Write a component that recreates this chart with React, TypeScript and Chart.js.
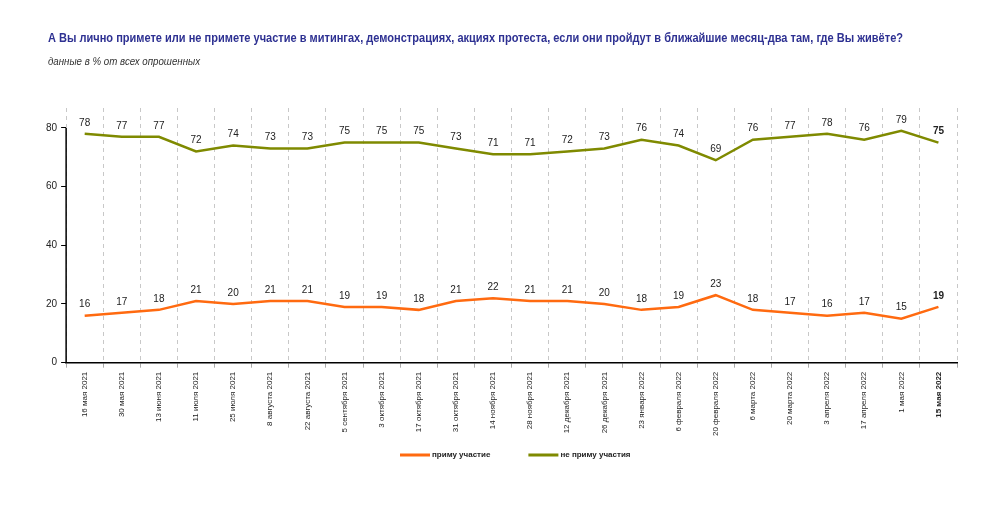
import React, { useEffect, useRef } from 'react';
import { Chart, registerables } from 'chart.js';

Chart.register(...registerables);

const FONT = '"Liberation Sans", Arial, sans-serif';

const TITLE = 'А Вы лично примете или не примете участие в митингах, демонстрациях, акциях протеста, если они пройдут в ближайшие месяц-два там, где Вы живёте?';
const SUBTITLE = 'данные в % от всех опрошенных';

const dates = [
    '16 мая 2021', '30 мая 2021', '13 июня 2021', '11 июля 2021', '25 июля 2021', '8 августа 2021',
    '22 августа 2021', '5 сентября 2021', '3 октября 2021', '17 октября 2021', '31 октября 2021',
    '14 ноября 2021', '28 ноября 2021', '12 декабря 2021', '26 декабря 2021', '23 января 2022',
    '6 февраля 2022', '20 февраля 2022', '6 марта 2022', '20 марта 2022', '3 апреля 2022',
    '17 апреля 2022', '1 мая 2022', '15 мая 2022',
];

const willTakePart = [16, 17, 18, 21, 20, 21, 21, 19, 19, 18, 21, 22, 21, 21, 20, 18, 19, 23, 18, 17, 16, 17, 15, 19];
const willNotTakePart = [78, 77, 77, 72, 74, 73, 73, 75, 75, 75, 73, 71, 71, 72, 73, 76, 74, 69, 76, 77, 78, 76, 79, 75];

const yTicks = [0, 20, 40, 60, 80];

const ORANGE = '#ff6a10';
const OLIVE = '#7f8a00';

// titles, point labels, legend and the short y axis line
const extras = {
    id: 'extras',
    afterDraw(chart: any) {
        const ctx = chart.ctx;
        const last = dates.length - 1;
        ctx.save();
        ctx.textAlign = 'left';
        ctx.textBaseline = 'middle';
        ctx.fillStyle = '#2e3192';
        ctx.font = `bold 13.5px ${FONT}`;
        ctx.fillText(TITLE, 48, 38, 855);
        ctx.fillStyle = '#333';
        ctx.font = `italic 10.5px ${FONT}`;
        ctx.fillText(SUBTITLE, 48, 62, 152);

        ctx.textAlign = 'center';
        ctx.fillStyle = '#222';
        chart.data.datasets.forEach((ds: any, i: number) => {
            const meta = chart.getDatasetMeta(i);
            meta.data.forEach((pt: any, j: number) => {
                ctx.font = `${j === last ? 'bold ' : ''}10px ${FONT}`;
                ctx.fillText(String(ds.data[j]), pt.x, pt.y - 11);
            });
        });

        // legend
        const legendY = 455;
        let lx = 400;
        ctx.textAlign = 'left';
        ctx.font = `bold 8px ${FONT}`;
        chart.data.datasets.forEach((ds: any) => {
            ctx.fillStyle = ds.borderColor;
            ctx.fillRect(lx, legendY - 1.5, 30, 3);
            ctx.fillStyle = '#222';
            ctx.fillText(ds.label, lx + 32, legendY);
            lx += 32 + ctx.measureText(ds.label).width + 38;
        });

        const y = chart.scales.y;
        ctx.strokeStyle = '#000';
        ctx.lineWidth = 1.5;
        ctx.beginPath();
        ctx.moveTo(chart.chartArea.left, y.getPixelForValue(0));
        ctx.lineTo(chart.chartArea.left, y.getPixelForValue(80));
        ctx.stroke();
        ctx.restore();
    },
};

export default function App() {
    const chartRef = useRef<HTMLCanvasElement>(null);
    const chartInstance = useRef<Chart | null>(null);

    useEffect(() => {
        if (chartInstance.current) {
            chartInstance.current.destroy();
        }
        if (chartRef.current) {
            const ctx = chartRef.current.getContext('2d');
            if (ctx) {
                chartInstance.current = new Chart(ctx, {
                    type: 'line',
                    data: {
                        labels: dates,
                        datasets: [
                            {
                                label: 'приму участие',
                                data: willTakePart,
                                borderColor: ORANGE,
                                backgroundColor: ORANGE,
                                borderWidth: 2.5,
                                pointRadius: 0,
                                tension: 0,
                            },
                            {
                                label: 'не приму участия',
                                data: willNotTakePart,
                                borderColor: OLIVE,
                                backgroundColor: OLIVE,
                                borderWidth: 2.5,
                                pointRadius: 0,
                                tension: 0,
                            },
                        ],
                    },
                    options: {
                        responsive: true,
                        maintainAspectRatio: false,
                        animation: false,
                        layout: {
                            padding: { top: 108, left: 42, right: 50, bottom: 70 },
                        },
                        plugins: {
                            legend: { display: false },
                            tooltip: { enabled: false },
                        },
                        scales: {
                            x: {
                                offset: true,
                                grid: {
                                    offset: true,
                                    color: '#c8c8c8',
                                    lineWidth: 1,
                                    tickLength: 5,
                                    tickColor: '#aaa',
                                    tickBorderDash: [],
                                },
                                border: { display: true, color: '#000', width: 1.5, dash: [4, 4] },
                                ticks: {
                                    autoSkip: false,
                                    minRotation: 90,
                                    maxRotation: 90,
                                    padding: 4,
                                    color: '#222',
                                    font: (c: any) => ({
                                        family: FONT,
                                        size: 8,
                                        weight: c.index === dates.length - 1 ? 'bold' : 'normal',
                                    }),
                                },
                            },
                            y: {
                                min: 0,
                                max: 86.8,
                                afterBuildTicks: (scale: any) => {
                                    scale.ticks = yTicks.map((v) => ({ value: v }));
                                },
                                grid: {
                                    drawOnChartArea: false,
                                    tickLength: 5,
                                    tickColor: '#000',
                                },
                                border: { display: false },
                                ticks: {
                                    padding: 4,
                                    color: '#222',
                                    font: { family: FONT, size: 10 },
                                },
                            },
                        },
                    },
                    plugins: [extras],
                });
            }
        }
        return () => {
            if (chartInstance.current) {
                chartInstance.current.destroy();
            }
        };
    }, []);

    return (
        <div style={{ position: 'absolute', left: 0, top: 0, width: '1007px', height: '510px', background: '#fff' }}>
            <canvas ref={chartRef} />
        </div>
    );
}
